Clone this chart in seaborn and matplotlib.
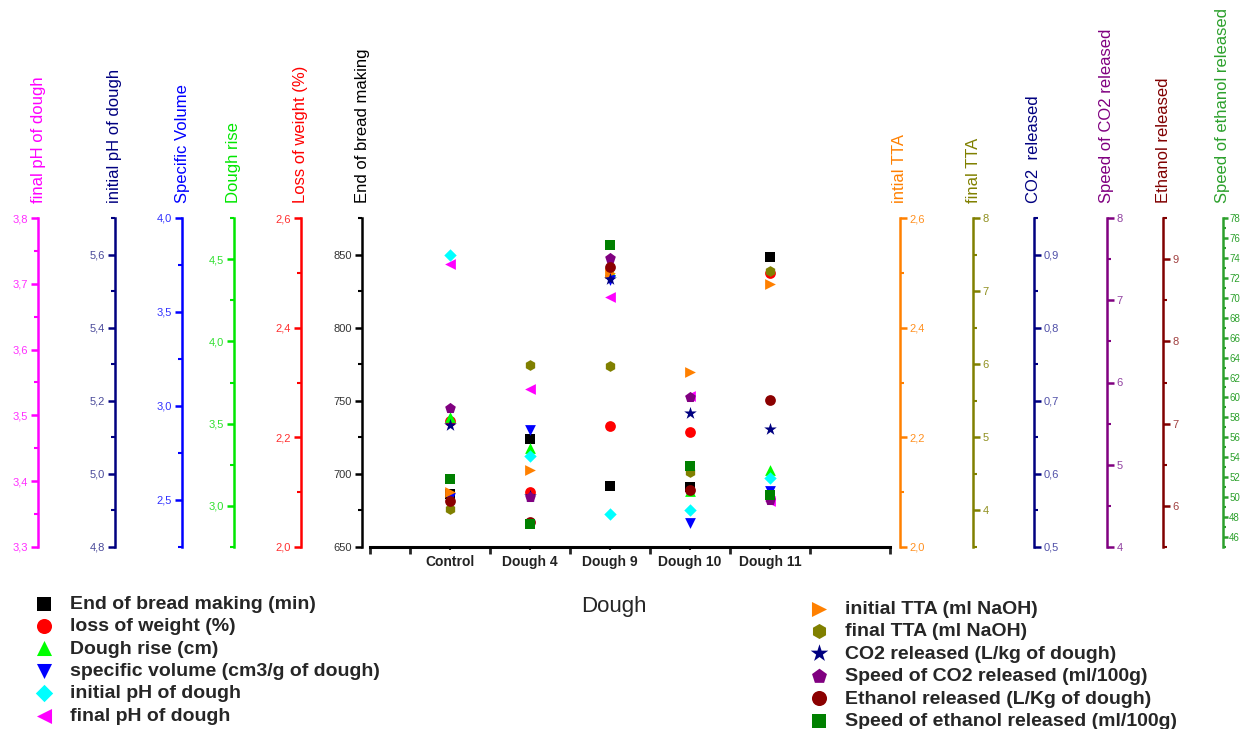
import numpy as np
import pandas as pd
import seaborn as sns
import matplotlib.pyplot as plt
from matplotlib.ticker import MultipleLocator, FuncFormatter

sns.set_style("white")
plt.rcParams['font.family'] = ['Liberation Sans', 'DejaVu Sans']

# categories on the x axis
doughs = ['Control', 'Dough 4', 'Dough 9', 'Dough 10', 'Dough 11']

# values
end_bread = [686, 724, 692, 691, 848]            # min
loss_weight = [2.23, 2.10, 2.22, 2.21, 2.50]     # %
dough_rise = [3.54, 3.35, 4.43, 3.09, 3.22]      # cm
spec_volume = [2.51, 2.87, 3.67, 2.38, 2.55]     # cm3/g
ph_initial = [5.60, 5.05, 4.89, 4.90, 4.99]
ph_final = [3.73, 3.54, 3.68, 3.53, 3.37]
tta_initial = [2.10, 2.14, 2.50, 2.32, 2.48]     # ml NaOH
tta_final = [4.02, 5.99, 5.97, 4.52, 7.28]       # ml NaOH
co2 = [0.667, 0.570, 0.867, 0.683, 0.662]        # L/kg
co2_speed = [5.69, 4.61, 7.51, 5.82, 4.57]       # ml/100g
ethanol = [6.06, 5.81, 8.91, 6.19, 7.29]         # L/kg
ethanol_speed = [51.8, 47.3, 75.3, 53.1, 50.2]   # ml/100g

# figure / plot box in pixels
W, H = 1243, 729
X0, X1, Y_BOT, Y_TOP = 370, 890, 547, 218

# (values, legend label, axis title, marker colour, axis colour, tick label colour,
#  marker, size, side, spine x px, ylim lo, ylim hi, major, minor, decimals)
series = [
    (end_bread, 'End of bread making (min)', 'End of bread making', 'black', 'black', '#333333',
     's', 50, 'left', 362, 650, 875, 50, 25, 0),
    (loss_weight, 'loss of weight (%)', 'Loss of weight (%)', '#ff0000', '#ff0000', '#ff3030',
     'o', 60, 'left', 301, 2.0, 2.6, 0.2, 0.1, 1),
    (dough_rise, 'Dough rise (cm)', 'Dough rise', '#00ff00', '#00e600', '#30e030',
     '^', 60, 'left', 234, 2.75, 4.75, 0.5, 0.25, 1),
    (spec_volume, 'specific volume (cm3/g of dough)', 'Specific Volume', '#0000ff', '#0000ff', '#3030ff',
     'v', 60, 'left', 182, 2.25, 4.0, 0.5, 0.25, 1),
    (ph_initial, 'initial pH of dough', 'initial pH of dough', '#00ffff', '#000080', '#4a4a9a',
     'D', 40, 'left', 115, 4.8, 5.7, 0.2, 0.1, 1),
    (ph_final, 'final pH of dough', 'final pH of dough', '#ff00ff', '#ff00ff', '#ff30ff',
     '<', 60, 'left', 38, 3.3, 3.8, 0.1, 0.05, 1),
    (tta_initial, 'initial TTA (ml NaOH)', 'intial TTA', '#ff8000', '#ff8000', '#ff9020',
     '>', 60, 'right', 900, 2.0, 2.6, 0.2, 0.1, 1),
    (tta_final, 'final TTA (ml NaOH)', 'final TTA', '#808000', '#808000', '#909020',
     'h', 60, 'right', 973, 3.5, 8.0, 1, 0.5, 0),
    (co2, 'CO2 released (L/kg of dough)', 'CO2  released', '#000080', '#000080', '#5050a8',
     '*', 90, 'right', 1034, 0.5, 0.95, 0.1, 0.05, 1),
    (co2_speed, 'Speed of CO2 released (ml/100g)', 'Speed of CO2 released', '#800080', '#800080', '#9040a0',
     'p', 65, 'right', 1107, 4.0, 8.0, 1, 0.5, 0),
    (ethanol, 'Ethanol released (L/Kg of dough)', 'Ethanol released', '#8b0000', '#800000', '#a04040',
     'o', 60, 'right', 1163, 5.5, 9.5, 1, 0.5, 0),
    (ethanol_speed, 'Speed of ethanol released (ml/100g)', 'Speed of ethanol released', '#008000', '#2ca02c', '#2ca02c',
     's', 45, 'right', 1223, 45, 78, 2, 1, 0),
]

xpos = np.arange(1, len(doughs) + 1)

fig = plt.figure(figsize=(W / 100, H / 100), dpi=100)
ax = fig.add_axes([X0 / W, 1 - Y_BOT / H, (X1 - X0) / W, (Y_BOT - Y_TOP) / H])

handles, labels = [], []
for i, (vals, lab, title, mc, ac, tc, mk, sz, side, px, lo, hi, major, minor, dec) in enumerate(series):
    tax = ax if i == 0 else ax.twinx()
    df = pd.DataFrame({'x': xpos, 'y': vals})
    sns.scatterplot(data=df, x='x', y='y', ax=tax, marker=mk, color=mc, s=sz,
                    linewidth=0, legend=False, zorder=3, clip_on=False)
    handles.append(tax.collections[-1])
    labels.append(lab)

    tax.set_ylim(lo, hi)
    tax.set_ylabel('')
    for sp in ['top', 'bottom', 'left', 'right']:
        if i > 0 or sp != 'bottom':
            tax.spines[sp].set_visible(False)
    tax.spines[side].set_visible(True)
    tax.spines[side].set_position(('axes', (px - X0) / (X1 - X0)))
    tax.spines[side].set_color(ac)
    tax.spines[side].set_linewidth(1.8)
    if side == 'left':
        tax.yaxis.set_ticks_position('left')
    else:
        tax.yaxis.set_ticks_position('right')
    tax.yaxis.set_major_locator(MultipleLocator(major))
    tax.yaxis.set_minor_locator(MultipleLocator(minor))
    tax.yaxis.set_major_formatter(FuncFormatter(
        lambda v, p, d=dec: f'{v:.{d}f}'.replace('.', ',')))
    # the last axis sits at the figure edge: keep its labels tight
    last = i == len(series) - 1
    tax.tick_params(axis='y', which='major', colors=ac, labelcolor=tc,
                    length=3.5 if last else 5, width=1.8,
                    labelsize=7 if last else 8, pad=1 if last else 2)
    tax.tick_params(axis='y', which='minor', colors=ac, length=2.5 if last else 3, width=1.5)

    # axis title above the spine
    fig.text(px / W, 1 - 203 / H, title, rotation=90, ha='center', va='bottom',
             color=ac, fontsize=12)

# x axis (category axis)
ax.set_xlim(0, 6.5)
ax.spines['bottom'].set_linewidth(2.2)
ax.spines['bottom'].set_color('black')
ax.set_xticks([0, 0.5, 1.5, 2.5, 3.5, 4.5, 5.5, 6.5])
ax.set_xticklabels([])
ax.set_xticks(xpos, minor=True)
ax.set_xticklabels(doughs, minor=True, fontweight='bold', fontsize=10, color='#222222')
ax.tick_params(axis='x', which='major', length=5, width=2, direction='out', bottom=True)
ax.tick_params(axis='x', which='minor', length=2, width=1.5, pad=4, bottom=True)
ax.set_xlabel('Dough', fontsize=16)
ax.xaxis.set_label_coords((614 - X0) / (X1 - X0), -(596 - Y_BOT) / (Y_BOT - Y_TOP))

prop = {'family': 'Liberation Sans', 'weight': 'bold', 'size': 14}
fig.legend(handles[:6], labels[:6], loc='upper left', bbox_to_anchor=(35 / W, 1 - 595 / H),
           frameon=False, prop=prop, handlelength=0.95, handletextpad=0.85,
           labelspacing=0.25, borderpad=0, borderaxespad=0, markerscale=1.4)
fig.legend(handles[6:], labels[6:], loc='upper left', bbox_to_anchor=(810 / W, 1 - 600 / H),
           frameon=False, prop=prop, handlelength=0.95, handletextpad=0.85,
           labelspacing=0.25, borderpad=0, borderaxespad=0, markerscale=1.4)

fig.savefig('out.png', dpi=100)
